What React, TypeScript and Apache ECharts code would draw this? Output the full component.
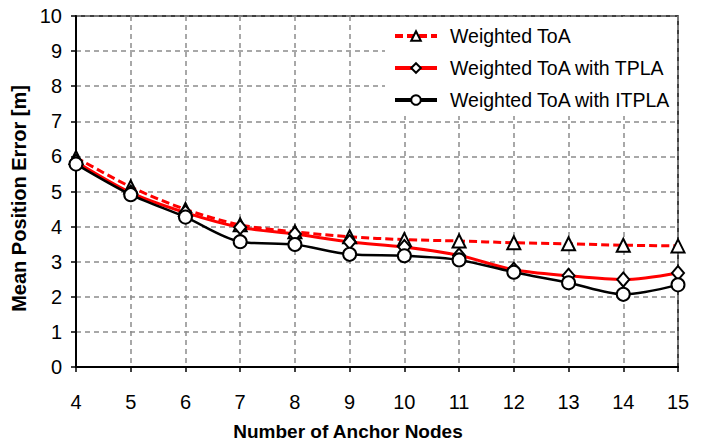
import React, { useEffect, useRef } from "react";
import * as echarts from "echarts";

const anchorNodes = [4, 5, 6, 7, 8, 9, 10, 11, 12, 13, 14, 15];
const weightedToA = [5.97, 5.13, 4.49, 4.05, 3.85, 3.71, 3.63, 3.59, 3.54, 3.51, 3.47, 3.45];
const weightedTPLA = [5.85, 4.97, 4.4, 3.98, 3.79, 3.56, 3.42, 3.18, 2.77, 2.6, 2.49, 2.68];
const weightedITPLA = [5.78, 4.91, 4.27, 3.57, 3.49, 3.21, 3.17, 3.05, 2.7, 2.4, 2.07, 2.34];
const seriesNames = ["Weighted ToA", "Weighted ToA with TPLA", "Weighted ToA with ITPLA"];

const FONT = "Liberation Sans, Arial, sans-serif";

export default function App() {
  const ref = useRef<HTMLDivElement>(null);
  useEffect(() => {
    if (!ref.current) return;
    const chart = echarts.init(ref.current, undefined, { renderer: "svg" });
    const pts = (vals: number[]) => anchorNodes.map((x, i) => [x, vals[i]]);
    const markerStyle = { color: "#fff", borderColor: "#000", borderWidth: 2 };
    chart.setOption({
      animation: false,
      backgroundColor: "#fff",
      textStyle: { fontFamily: FONT },
      grid: {
        left: 76,
        right: 32,
        top: 16,
        bottom: 73,
        show: true,
        borderColor: "#000",
        borderWidth: 1.5,
        backgroundColor: "transparent",
      },
      legend: {
        data: seriesNames,
        orient: "vertical",
        left: 393,
        top: 26,
        padding: 0,
        itemWidth: 42,
        itemHeight: 12,
        itemGap: 12,
        lineStyle: { width: 4 },
        textStyle: { fontFamily: FONT, fontSize: 19.5, color: "#000", padding: [0, 0, 0, 8] },
      },
      graphic: [
        {
          type: "rect",
          z: 1,
          shape: { x: 385, y: 17, width: 292, height: 99 },
          style: { fill: "#fff" },
        },
      ],
      xAxis: {
        type: "value",
        min: 4,
        max: 15,
        interval: 1,
        name: "Number of Anchor Nodes",
        nameLocation: "middle",
        nameGap: 55,
        nameTextStyle: {
          fontFamily: FONT,
          fontSize: 19,
          fontWeight: "bold",
          color: "#000",
          padding: [0, 58, 0, 0],
        },
        axisLine: { lineStyle: { color: "#000", width: 2 } },
        axisTick: { show: true, length: 5, lineStyle: { color: "#000", width: 1.5 } },
        axisLabel: { fontFamily: FONT, fontSize: 20, color: "#000", margin: 25 },
        splitLine: { show: true, lineStyle: { color: "#8c8c8c", type: [5, 4], width: 1.5 } },
      },
      yAxis: {
        type: "value",
        min: 0,
        max: 10,
        interval: 1,
        name: "Mean Position Error [m]",
        nameLocation: "middle",
        nameGap: 44,
        nameTextStyle: {
          fontFamily: FONT,
          fontSize: 20,
          fontWeight: "bold",
          color: "#000",
          padding: [0, 14, 0, 0],
        },
        axisLine: { show: true, lineStyle: { color: "#000", width: 2 } },
        axisTick: { show: true, length: 5, lineStyle: { color: "#000", width: 1.5 } },
        axisLabel: { fontFamily: FONT, fontSize: 20, color: "#000", margin: 14 },
        splitLine: { show: true, lineStyle: { color: "#8c8c8c", type: [5, 4], width: 1.5 } },
      },
      series: [
        {
          name: seriesNames[0],
          type: "line",
          data: pts(weightedToA),
          smooth: 0.3,
          symbol: "triangle",
          symbolSize: 13,
          itemStyle: markerStyle,
          lineStyle: { color: "#ff0000", width: 3, type: [8, 4] },
          z: 3,
        },
        {
          name: seriesNames[1],
          type: "line",
          data: pts(weightedTPLA),
          smooth: 0.3,
          symbol: "diamond",
          symbolSize: [12, 14],
          itemStyle: markerStyle,
          lineStyle: { color: "#ff0000", width: 3 },
          z: 3,
        },
        {
          name: seriesNames[2],
          type: "line",
          data: pts(weightedITPLA),
          smooth: 0.3,
          symbol: "circle",
          symbolSize: 13,
          itemStyle: markerStyle,
          lineStyle: { color: "#000", width: 2.5 },
          z: 3,
        },
      ],
    });
    return () => chart.dispose();
  }, []);
  return <div ref={ref} style={{ width: 710, height: 446, position: "absolute", left: 0, top: 0 }} />;
}
